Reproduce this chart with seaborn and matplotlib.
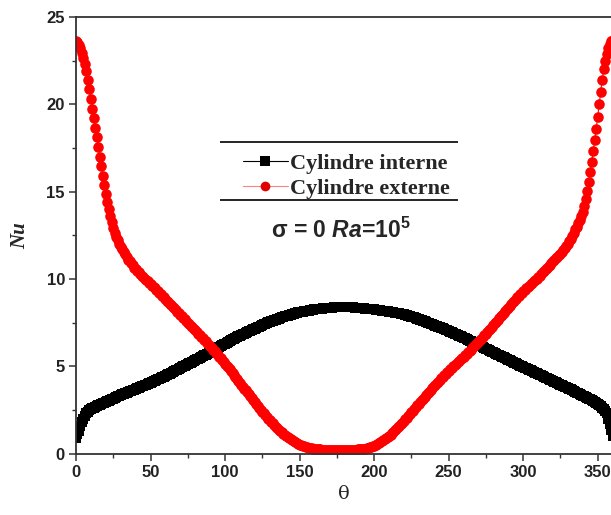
import numpy as np
import pandas as pd
import matplotlib
matplotlib.use("Agg")
import matplotlib.pyplot as plt
import seaborn as sns

theta = list(range(0, 361))

nu_interne = [
    0.90, 1.10, 1.30, 1.55, 1.80, 2.00, 2.15, 2.30, 2.40, 2.47,
    2.53, 2.58, 2.63, 2.67, 2.71, 2.75, 2.79, 2.83, 2.87, 2.91,
    2.95, 2.99, 3.03, 3.07, 3.11, 3.15, 3.19, 3.23, 3.27, 3.31,
    3.35, 3.38, 3.42, 3.45, 3.49, 3.52, 3.56, 3.59, 3.63, 3.66,
    3.70, 3.73, 3.77, 3.80, 3.84, 3.87, 3.91, 3.94, 3.98, 4.01,
    4.05, 4.09, 4.13, 4.17, 4.21, 4.25, 4.29, 4.33, 4.37, 4.41,
    4.45, 4.49, 4.54, 4.58, 4.63, 4.67, 4.72, 4.76, 4.81, 4.85,
    4.90, 4.94, 4.99, 5.03, 5.08, 5.12, 5.17, 5.21, 5.26, 5.30,
    5.35, 5.39, 5.44, 5.48, 5.53, 5.57, 5.62, 5.66, 5.71, 5.75,
    5.80, 5.85, 5.90, 5.95, 6.00, 6.05, 6.10, 6.15, 6.20, 6.25,
    6.30, 6.35, 6.39, 6.44, 6.48, 6.53, 6.57, 6.62, 6.66, 6.71,
    6.75, 6.79, 6.83, 6.87, 6.91, 6.95, 6.99, 7.03, 7.07, 7.11,
    7.15, 7.19, 7.23, 7.27, 7.31, 7.35, 7.39, 7.43, 7.47, 7.51,
    7.55, 7.58, 7.61, 7.64, 7.67, 7.70, 7.73, 7.76, 7.79, 7.82,
    7.85, 7.88, 7.90, 7.93, 7.95, 7.98, 8.00, 8.03, 8.05, 8.08,
    8.10, 8.12, 8.13, 8.15, 8.16, 8.18, 8.19, 8.21, 8.22, 8.24,
    8.25, 8.26, 8.27, 8.28, 8.29, 8.30, 8.31, 8.32, 8.33, 8.34,
    8.35, 8.36, 8.36, 8.37, 8.37, 8.38, 8.38, 8.39, 8.39, 8.40,
    8.40, 8.40, 8.39, 8.39, 8.38, 8.38, 8.37, 8.36, 8.35, 8.34,
    8.34, 8.33, 8.32, 8.31, 8.30, 8.29, 8.28, 8.27, 8.26, 8.26,
    8.25, 8.24, 8.23, 8.22, 8.20, 8.19, 8.18, 8.17, 8.15, 8.14,
    8.13, 8.12, 8.10, 8.09, 8.07, 8.06, 8.04, 8.03, 8.01, 8.00,
    7.98, 7.95, 7.93, 7.90, 7.87, 7.84, 7.82, 7.79, 7.76, 7.73,
    7.70, 7.67, 7.64, 7.60, 7.57, 7.54, 7.50, 7.47, 7.44, 7.40,
    7.37, 7.33, 7.30, 7.26, 7.23, 7.19, 7.16, 7.12, 7.09, 7.05,
    7.02, 6.98, 6.94, 6.90, 6.86, 6.82, 6.78, 6.75, 6.71, 6.67,
    6.63, 6.59, 6.55, 6.51, 6.47, 6.43, 6.38, 6.34, 6.30, 6.26,
    6.22, 6.18, 6.14, 6.09, 6.05, 6.01, 5.97, 5.93, 5.88, 5.84,
    5.80, 5.76, 5.72, 5.67, 5.63, 5.59, 5.55, 5.51, 5.46, 5.42,
    5.38, 5.34, 5.30, 5.25, 5.21, 5.17, 5.13, 5.09, 5.04, 5.00,
    4.96, 4.92, 4.88, 4.84, 4.80, 4.76, 4.71, 4.67, 4.63, 4.59,
    4.55, 4.51, 4.47, 4.43, 4.39, 4.35, 4.31, 4.27, 4.23, 4.19,
    4.15, 4.11, 4.07, 4.03, 3.99, 3.95, 3.91, 3.87, 3.83, 3.79,
    3.75, 3.71, 3.67, 3.62, 3.58, 3.54, 3.49, 3.45, 3.41, 3.36,
    3.32, 3.28, 3.23, 3.19, 3.14, 3.10, 3.05, 3.00, 2.95, 2.90,
    2.85, 2.78, 2.70, 2.62, 2.54, 2.45, 2.30, 2.00, 1.70, 1.35,
    1.00,
]

nu_externe = [
    23.60, 23.55, 23.40, 23.20, 22.95, 22.65, 22.30, 21.90, 21.40, 20.85,
    20.30, 19.75, 19.20, 18.65, 18.10, 17.55, 17.00, 16.45, 15.90, 15.40,
    14.85, 14.40, 14.00, 13.60, 13.25, 12.90, 12.65, 12.40, 12.20, 12.00,
    11.85, 11.70, 11.55, 11.40, 11.25, 11.10, 11.00, 10.90, 10.80, 10.65,
    10.55, 10.46, 10.37, 10.28, 10.19, 10.10, 10.02, 9.94, 9.86, 9.78,
    9.70, 9.62, 9.54, 9.46, 9.38, 9.30, 9.21, 9.12, 9.03, 8.94,
    8.85, 8.76, 8.67, 8.58, 8.49, 8.40, 8.31, 8.22, 8.13, 8.04,
    7.95, 7.86, 7.77, 7.68, 7.59, 7.50, 7.41, 7.32, 7.23, 7.14,
    7.05, 6.96, 6.87, 6.78, 6.69, 6.60, 6.51, 6.42, 6.33, 6.24,
    6.15, 6.05, 5.95, 5.85, 5.75, 5.65, 5.55, 5.45, 5.35, 5.25,
    5.15, 5.04, 4.93, 4.82, 4.71, 4.60, 4.49, 4.38, 4.27, 4.16,
    4.05, 3.94, 3.83, 3.72, 3.61, 3.50, 3.39, 3.28, 3.17, 3.06,
    2.95, 2.84, 2.73, 2.62, 2.51, 2.40, 2.30, 2.20, 2.10, 2.00,
    1.90, 1.81, 1.72, 1.63, 1.54, 1.45, 1.37, 1.29, 1.21, 1.13,
    1.05, 0.99, 0.93, 0.87, 0.81, 0.75, 0.70, 0.65, 0.60, 0.55,
    0.50, 0.47, 0.44, 0.41, 0.38, 0.35, 0.33, 0.31, 0.29, 0.28,
    0.27, 0.26, 0.25, 0.24, 0.23, 0.22, 0.22, 0.21, 0.21, 0.21,
    0.20, 0.20, 0.20, 0.20, 0.20, 0.20, 0.20, 0.20, 0.20, 0.20,
    0.20, 0.20, 0.20, 0.20, 0.20, 0.21, 0.21, 0.22, 0.22, 0.23,
    0.23, 0.24, 0.25, 0.26, 0.28, 0.30, 0.32, 0.35, 0.38, 0.41,
    0.45, 0.49, 0.54, 0.59, 0.64, 0.70, 0.76, 0.82, 0.88, 0.94,
    1.00, 1.08, 1.16, 1.24, 1.32, 1.40, 1.49, 1.58, 1.67, 1.76,
    1.85, 1.95, 2.05, 2.15, 2.25, 2.35, 2.45, 2.55, 2.65, 2.75,
    2.85, 2.95, 3.05, 3.15, 3.25, 3.35, 3.45, 3.55, 3.65, 3.75,
    3.85, 3.94, 4.03, 4.12, 4.21, 4.30, 4.39, 4.48, 4.57, 4.66,
    4.75, 4.83, 4.91, 4.99, 5.07, 5.15, 5.23, 5.31, 5.39, 5.47,
    5.55, 5.63, 5.71, 5.79, 5.87, 5.95, 6.04, 6.13, 6.22, 6.31,
    6.40, 6.49, 6.58, 6.67, 6.76, 6.85, 6.95, 7.05, 7.15, 7.25,
    7.35, 7.45, 7.55, 7.65, 7.75, 7.85, 7.95, 8.05, 8.15, 8.25,
    8.35, 8.45, 8.55, 8.65, 8.75, 8.85, 8.94, 9.03, 9.12, 9.21,
    9.30, 9.38, 9.46, 9.54, 9.62, 9.70, 9.78, 9.86, 9.94, 10.02,
    10.10, 10.19, 10.28, 10.37, 10.46, 10.55, 10.64, 10.73, 10.82, 10.91,
    11.00, 11.09, 11.18, 11.27, 11.36, 11.45, 11.55, 11.65, 11.75, 11.87,
    12.00, 12.15, 12.30, 12.45, 12.65, 12.85, 13.00, 13.20, 13.40, 13.60,
    13.85, 14.20, 14.60, 15.05, 15.55, 16.10, 16.70, 17.30, 17.95, 18.60,
    19.30, 20.00, 20.70, 21.40, 22.00, 22.50, 22.90, 23.20, 23.45, 23.60,
    23.70,
]

series_names = ["Cylindre interne", "Cylindre externe"]
x_ticks = [0, 50, 100, 150, 200, 250, 300, 350]
y_ticks = [0, 5, 10, 15, 20, 25]

df = pd.DataFrame({
    "theta": theta * 2,
    "Nu": nu_interne + nu_externe,
    "serie": [series_names[0]] * len(theta) + [series_names[1]] * len(theta),
})

sns.set_style("ticks")
plt.rcParams["font.family"] = ["Liberation Sans", "DejaVu Sans"]
plt.rcParams["mathtext.fontset"] = "custom"
plt.rcParams["mathtext.rm"] = "Liberation Sans:bold"
plt.rcParams["mathtext.it"] = "Liberation Sans:bold:italic"
plt.rcParams["mathtext.bf"] = "Liberation Sans:bold"

fig = plt.figure(figsize=(6.11, 5.15), dpi=100, facecolor="white")
ax = fig.add_axes([76 / 611, 61.5 / 515, 536.6 / 611, 436.5 / 515])

sns.lineplot(
    data=df, x="theta", y="Nu", hue="serie", style="serie",
    palette={series_names[0]: "black", series_names[1]: "#ff0000"},
    markers={series_names[0]: "s", series_names[1]: "o"},
    dashes=False, markersize=7.6, markeredgewidth=0, linewidth=0.8,
    ax=ax, legend=True, sort=False,
)

ax.set_xlim(0, 360)
ax.set_ylim(0, 25)
ax.set_xticks(x_ticks)
ax.set_yticks(y_ticks)
ax.set_xticks(np.arange(25, 360, 50), minor=True)
ax.set_yticks(np.arange(2.5, 25, 5), minor=True)
ax.tick_params(which="major", direction="out", length=5, width=1.1, color="#333333",
               labelsize=12, pad=3)
ax.tick_params(which="minor", direction="out", length=3, width=1.0, color="#333333")
for lab in ax.get_xticklabels() + ax.get_yticklabels():
    lab.set_fontweight("bold")
    lab.set_color("#222222")
for side in ["left", "bottom", "top", "right"]:
    ax.spines[side].set_visible(True)
    ax.spines[side].set_color("#333333")
    ax.spines[side].set_linewidth(1.3)

ax.set_xlabel("θ", fontsize=14, family="DejaVu Serif", labelpad=4)
ax.set_ylabel("Nu", fontsize=15, family="Liberation Serif", style="italic",
              fontweight="bold", labelpad=12)

handles, labels = ax.get_legend_handles_labels()
for h in handles:
    h.set_markersize(7)
handles[1].set_color("#ff8080")
handles[1].set_markerfacecolor("#e00000")
handles[1].set_markeredgecolor("#e00000")
leg = ax.legend(handles, labels, loc="center", bbox_to_anchor=(0.504, 0.6346),
                frameon=False, handlelength=2.0, handletextpad=0.1,
                labelspacing=0.2, borderpad=0.1,
                prop={"family": "Liberation Serif", "weight": "bold", "size": 16})

ax.hlines([0.7136, 0.58], 0.269, 0.711, transform=ax.transAxes,
          colors="black", linewidth=1.2)

ax.text(0.494, 0.512, "σ = 0 $Ra$=10$^5$", transform=ax.transAxes,
        ha="center", va="center", fontsize=16.5, fontweight="bold",
        family="Liberation Sans")

fig.savefig("out.png", dpi=100, facecolor="white")
